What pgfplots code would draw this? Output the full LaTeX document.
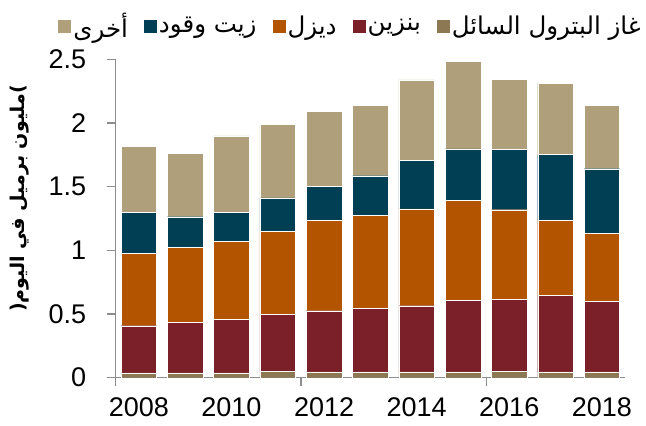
\documentclass[border=0pt]{standalone}
\usepackage{fontspec}
\setmainfont{Liberation Sans}
\newfontfamily\arabicfont[Script=Arabic]{DejaVu Sans}
\TeXXeTstate=1
\usepackage{pgfplots}
\usepackage{pgfplotstable}
\pgfplotsset{compat=1.18}

\definecolor{lpg}{HTML}{8C7853}
\definecolor{gasoline}{HTML}{7B2029}
\definecolor{diesel}{HTML}{B35400}
\definecolor{fueloil}{HTML}{003F54}
\definecolor{other}{HTML}{AF9F7A}
\definecolor{axgray}{HTML}{8C8C8C}

% million barrels per day, stacked from the bottom
\pgfplotstableread{
year  lpg    gas    diesel fuel   other
2008  0.037  0.371  0.571  0.319  0.516
2009  0.037  0.395  0.592  0.240  0.495
2010  0.037  0.421  0.613  0.230  0.597
2011  0.052  0.443  0.654  0.262  0.579
2012  0.045  0.481  0.712  0.265  0.589
2013  0.045  0.500  0.732  0.309  0.550
2014  0.045  0.520  0.760  0.379  0.634
2015  0.045  0.562  0.786  0.403  0.688
2016  0.052  0.563  0.704  0.472  0.552
2017  0.045  0.602  0.591  0.513  0.561
2018  0.045  0.554  0.535  0.507  0.500
}\products

\begin{document}
\begin{tikzpicture}
\begin{axis}[name=ax, at={(0,0)}, anchor=south west,
  scale only axis, width=509.3bp, height=318.4bp,
  ybar stacked, bar width=0.77,
  xmin=2007.5, xmax=2018.5, ymin=0, ymax=2.5,
  axis x line=bottom, axis y line=left,
  axis line style={draw=axgray, line width=1.2bp, -},
  tick align=outside, major tick length=9bp, minor tick length=8bp,
  xtick={2008,2010,2012,2014,2016,2018},
  xticklabels={2008,2010,2012,2014,2016,2018},
  minor xtick={2007.5,2011.5,2015.5},
  major x tick style={draw=none},
  minor x tick style={draw=axgray, line width=1.2bp},
  ytick={0,0.5,1,1.5,2,2.5},
  y tick style={draw=axgray, line width=1.2bp},
  /pgf/number format/assume math mode=true,
  tick label style={font=\fontsize{27bp}{31bp}\selectfont},
  xticklabel style={yshift=-10bp, inner ysep=1bp},
  yticklabel style={xshift=-17bp},
  ylabel={\arabicfont\bfseries(\beginR مليون برميل في اليوم\endR)},
  ylabel style={at={(axis description cs:-0.188,0.563)},
    anchor=center, font=\fontsize{19bp}{22bp}\selectfont},
  every axis plot/.append style={draw=white, line width=0.4bp},
  reverse legend, legend columns=5,
  legend style={draw=none, fill=none, at={(-0.113,1.106)}, anchor=west,
    inner sep=0bp, font=\fontsize{24.5bp}{28bp}\arabicfont,
    nodes={inner sep=2bp},
    /tikz/every even column/.append style={column sep=14bp}},
  legend image code/.code={\fill[#1,draw=none] (0bp,-7bp) rectangle (13bp,6bp);},
]
\addplot[fill=lpg] table[x=year, y=lpg] {\products};
\addlegendentry{\beginR غاز البترول السائل\endR}
\addplot[fill=gasoline] table[x=year, y=gas] {\products};
\addlegendentry{\beginR بنزين\endR}
\addplot[fill=diesel] table[x=year, y=diesel] {\products};
\addlegendentry{\beginR ديزل\endR}
\addplot[fill=fueloil] table[x=year, y=fuel] {\products};
\addlegendentry{\beginR زيت وقود\endR}
\addplot[fill=other] table[x=year, y=other] {\products};
\addlegendentry{\beginR أخرى\endR}
\end{axis}
\pgfresetboundingbox
\path[use as bounding box] ([shift={(-115.7bp,-48.3bp)}]ax.south west)
  rectangle ([shift={(21bp,59.3bp)}]ax.north east);
\end{tikzpicture}
\end{document}
